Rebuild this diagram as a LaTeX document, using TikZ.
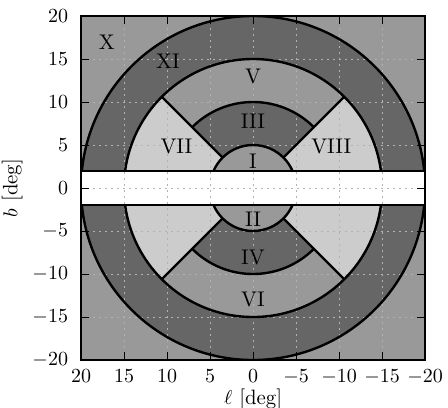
\documentclass[tikz,border=0pt]{standalone}
\usepackage{tikz}

\definecolor{regdark}{gray}{0.4}
\definecolor{regmid}{gray}{0.6}
\definecolor{reglight}{gray}{0.8}
\tikzset{
  %% ---- lines ----
  edge/.style     = {line width=1.2pt, black},
  gridline/.style = {line width=0.4pt, gray!60, dash pattern=on 1pt off 2pt},
  tickmark/.style = {line width=0.5pt, black},
  %% ---- text ----
  reglabel/.style = {font=\fontsize{10.6}{12}\selectfont, inner sep=0pt},
  numlabel/.style = {font=\fontsize{10.4}{12}\selectfont, inner sep=0pt},
}

\begin{document}
\begin{tikzpicture}[x=4.3pt, y=4.3pt]
  \useasboundingbox (-29.42,-25.47) rectangle (22.67,21.86);

  %% Filled regions
  \begin{scope}
    \clip (-20,-20) rectangle (20,20);
    \fill[regmid] (-20,-20) rectangle (20,20);
    \fill[regdark] (0,0) circle[radius=20];
    \fill[reglight] (0,0) circle[radius=15];
    \foreach \a in {45,225} {
      \fill[regmid] (0,0) -- (\a:15) arc[start angle=\a, delta angle=90, radius=15] -- cycle;
      \fill[regdark] (0,0) -- (\a:10) arc[start angle=\a, delta angle=90, radius=10] -- cycle;
    }
    \fill[regmid] (0,0) circle[radius=5];
    \fill[white] (-20,-2) rectangle (20,2);
    %% grid
    \foreach \v in {-15,-10,...,15} {
      \draw[gridline] (\v,-20) -- (\v,20);
      \draw[gridline] (-20,\v) -- (20,\v);
    }
  \end{scope}

  %% Outlines
  \begin{scope}
    \clip (-20,2) rectangle (20,20) (-20,-20) rectangle (20,-2);
    \foreach \r in {5,15,20}
      \draw[edge] (0,0) circle[radius=\r];
  \end{scope}
  \foreach \a in {45,225}
    \draw[edge] (\a:10) arc[start angle=\a, delta angle=90, radius=10];
  \foreach \a in {45,135,225,315}
    \draw[edge] (\a:5) -- (\a:15);
  \draw[edge] (-20,2) -- (20,2) (-20,-2) -- (20,-2);

  %% Frame and ticks
  \draw[edge] (-20,-20) rectangle (20,20);
  \foreach \v in {-15,-10,...,15} {
    \draw[tickmark] (\v,-20) -- ++(0,4pt);
    \draw[tickmark] (\v,20) -- ++(0,-4pt);
    \draw[tickmark] (-20,\v) -- ++(4pt,0);
    \draw[tickmark] (20,\v) -- ++(-4pt,0);
  }
  \foreach \v [count=\i] in {-20,-15,...,20} {
    \node[numlabel, anchor=north, yshift=-4.8pt] (xlab\i) at ({-1*\v},-20) {$\v$};
    \node[numlabel, anchor=east, xshift=-6.3pt] (ylab\i) at (-20,\v) {$\v$};
  }

  %% Axis labels
  \node[numlabel] (xaxis) at (0,-24.55) {$\ell$ [deg]};
  \node[numlabel, rotate=90] (yaxis) at (-28,0) {$b$ [deg]};

  %% Region labels
  \node[reglabel] (rX)    at (-17,16.9)  {X};
  \node[reglabel] (rXI)   at (-9.9,14.7) {XI};
  \node[reglabel] (rV)    at (0,12.95)   {V};
  \node[reglabel] (rIII)  at (0,7.8)     {III};
  \node[reglabel] (rI)    at (0,3.15)    {I};
  \node[reglabel] (rVII)  at (-8.9,4.8)  {VII};
  \node[reglabel] (rVIII) at (9.1,4.8)   {VIII};
  \node[reglabel] (rII)   at (0,-3.6)    {II};
  \node[reglabel] (rIV)   at (0,-8.1)    {IV};
  \node[reglabel] (rVI)   at (0,-13)     {VI};

\end{tikzpicture}
\end{document}
